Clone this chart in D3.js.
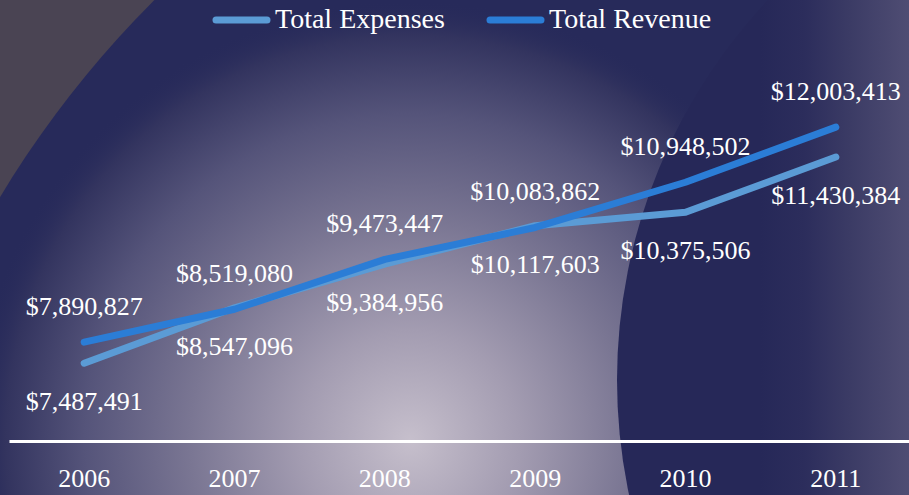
<!DOCTYPE html>
<html lang="en">
<head>
    <meta charset="UTF-8">
    <title>Total Expenses vs Total Revenue</title>
    <script src="https://d3js.org/d3.v7.min.js"></script>
    <style>
        body { margin: 0; background: #262858; }
        svg { display: block; }
    </style>
</head>
<body>
    <svg id="chart" width="909" height="495"></svg>

    <script>
        // chart data
        const years = ["2006", "2007", "2008", "2009", "2010", "2011"];
        const expenses = [7487491, 8547096, 9384956, 10117603, 10375506, 11430384];
        const revenue = [7890827, 8519080, 9473447, 10083862, 10948502, 12003413];
        const seriesNames = ["Total Expenses", "Total Revenue"];
        const seriesColors = ["#5b9bd5", "#2b7dd6"];

        const svg = d3.select("#chart"),
              width = +svg.attr("width"),
              height = +svg.attr("height");

        // ========== BACKGROUND ==========
        const defs = svg.append("defs");

        const glow = defs.append("radialGradient")
            .attr("id", "glow")
            .attr("gradientUnits", "userSpaceOnUse")
            .attr("cx", 410).attr("cy", 440).attr("r", 440);
        [[0, "#c6bfcc", 1], [0.25, "#a39cb1", 1], [0.5, "#7a7693", 1],
         [0.74, "#55547a", 1], [0.92, "#33345f", 1], [1, "#272a5a", 0]]
            .forEach(s => glow.append("stop")
                .attr("offset", s[0]).attr("stop-color", s[1]).attr("stop-opacity", s[2]));

        // right circle gets lighter towards the right edge
        const rightGlow = defs.append("linearGradient")
            .attr("id", "rightGlow")
            .attr("gradientUnits", "userSpaceOnUse")
            .attr("x1", 760).attr("y1", 0).attr("x2", 909).attr("y2", 0);
        [[0, "#262858"], [0.3, "#2c2d5c"], [0.6, "#3b3b65"], [1, "#4f4d73"]]
            .forEach(s => rightGlow.append("stop")
                .attr("offset", s[0]).attr("stop-color", s[1]));

        defs.append("clipPath").attr("id", "bigClip")
            .append("circle").attr("cx", 874).attr("cy", 723).attr("r", 1020);

        svg.append("rect").attr("width", width).attr("height", height).attr("fill", "#4a4453");
        svg.append("circle").attr("cx", 874).attr("cy", 723).attr("r", 1020).attr("fill", "#272a5a");
        svg.append("circle").attr("clip-path", "url(#bigClip)")
            .attr("cx", 410).attr("cy", 440).attr("r", 440).attr("fill", "url(#glow)");
        svg.append("circle").attr("cx", 1171).attr("cy", 380).attr("r", 554).attr("fill", "url(#rightGlow)");

        // ========== SCALES / AXIS ==========
        const x = d3.scaleBand().domain(years).range([9, 911]);
        const y = d3.scaleLinear().domain([6000000, 13000000]).range([441, 75]);
        const cx = d => x(d) + x.bandwidth() / 2;

        const axis = svg.append("g")
            .attr("transform", "translate(0,441)")
            .call(d3.axisBottom(x).tickSize(0).tickPadding(28));
        axis.select(".domain").attr("stroke", "#ffffff").attr("stroke-width", 3);
        axis.selectAll("text")
            .attr("fill", "#ffffff")
            .style("font-family", "'Liberation Serif', serif")
            .style("font-size", "26px");

        // ========== LINES ==========
        const series = [
            { name: seriesNames[0], color: seriesColors[0], values: expenses, below: true },
            { name: seriesNames[1], color: seriesColors[1], values: revenue, below: false }
        ];

        const line = d3.line()
            .x((d, i) => cx(years[i]))
            .y(d => y(d));

        svg.selectAll("path.series")
            .data(series)
            .join("path")
            .attr("class", "series")
            .attr("d", d => line(d.values))
            .attr("fill", "none")
            .attr("stroke", d => d.color)
            .attr("stroke-width", 7)
            .attr("stroke-linecap", "round")
            .attr("stroke-linejoin", "round");

        // ========== DATA LABELS ==========
        const fmt = d3.format("$,");
        series.forEach(s => {
            svg.append("g").selectAll("text")
                .data(s.values)
                .join("text")
                .attr("x", (d, i) => cx(years[i]))
                .attr("y", d => s.below ? y(d) + 47 : y(d) - 27)
                .attr("text-anchor", "middle")
                .attr("fill", "#ffffff")
                .style("font-family", "'Liberation Serif', serif")
                .style("font-size", "26px")
                .text(d => fmt(d));
        });

        // ========== LEGEND ==========
        const legendX = [216, 490];
        const legend = svg.append("g");
        const legendItem = legend.selectAll("g")
            .data(series)
            .join("g")
            .attr("transform", (d, i) => `translate(${legendX[i]},20)`);

        legendItem.append("line")
            .attr("x1", 0).attr("x2", 51)
            .attr("stroke", d => d.color)
            .attr("stroke-width", 7)
            .attr("stroke-linecap", "round");

        legendItem.append("text")
            .attr("x", 59)
            .attr("y", 8)
            .attr("fill", "#ffffff")
            .style("font-family", "'Liberation Serif', serif")
            .style("font-size", "28px")
            .text(d => d.name);
    </script>
</body>
</html>
